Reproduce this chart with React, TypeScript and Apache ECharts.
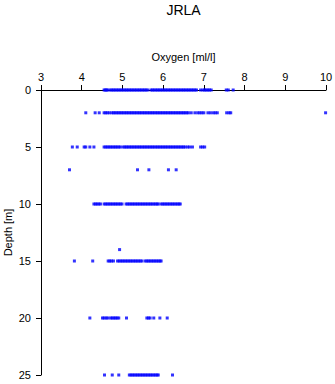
import React, { useEffect, useRef } from "react";
import * as echarts from "echarts";

const depthLevels = [0, 2, 5, 7, 10, 14, 15, 20, 25];

const oxygenAt0 = [
  4.55, 4.58, 4.61, 4.64, 4.70, 4.74, 4.78, 4.82, 4.86, 4.90, 4.94, 4.98, 5.02, 5.06, 5.10,
  5.14, 5.18, 5.22, 5.26, 5.30, 5.34, 5.38, 5.42, 5.46, 5.50, 5.54, 5.58, 5.62, 5.70, 5.74,
  5.78, 5.82, 5.86, 5.90, 5.94, 5.98, 6.02, 6.06, 6.10, 6.14, 6.18, 6.22, 6.26, 6.30, 6.34,
  6.38, 6.42, 6.46, 6.50, 6.54, 6.58, 6.62, 6.66, 6.70, 6.74, 6.78, 6.82, 6.92, 6.98, 7.02,
  7.06, 7.10, 7.14, 7.18, 7.55, 7.60, 7.72,
];
const oxygenAt2 = [
  4.10, 4.33, 4.43, 4.55, 4.59, 4.63, 4.68, 4.74, 4.78, 4.82, 4.86, 4.90, 4.94, 4.98, 5.02,
  5.06, 5.10, 5.14, 5.18, 5.22, 5.26, 5.30, 5.34, 5.38, 5.42, 5.46, 5.50, 5.54, 5.58, 5.62,
  5.66, 5.70, 5.74, 5.78, 5.82, 5.86, 5.90, 5.94, 5.98, 6.02, 6.06, 6.10, 6.14, 6.18, 6.22,
  6.26, 6.30, 6.34, 6.38, 6.42, 6.46, 6.50, 6.54, 6.58, 6.62, 6.69, 6.78, 6.85, 6.90, 6.95,
  7.00, 7.10, 7.16, 7.23, 7.28, 7.33, 7.56, 7.62, 7.66, 9.99,
];
const oxygenAt5 = [
  3.77, 3.89, 4.06, 4.10, 4.20, 4.30, 4.55, 4.59, 4.63, 4.67, 4.71, 4.75, 4.79, 4.83, 4.87,
  4.91, 4.95, 5.02, 5.06, 5.10, 5.14, 5.18, 5.22, 5.26, 5.30, 5.34, 5.38, 5.42, 5.46, 5.50,
  5.54, 5.58, 5.62, 5.66, 5.70, 5.74, 5.78, 5.82, 5.86, 5.90, 5.94, 5.98, 6.02, 6.06, 6.10,
  6.14, 6.18, 6.22, 6.26, 6.30, 6.34, 6.38, 6.42, 6.46, 6.50, 6.54, 6.60, 6.65, 6.72, 6.92,
  6.97, 7.02,
];
const oxygenAt7 = [3.70, 5.37, 5.65, 6.13, 6.32];
const oxygenAt10 = [
  4.30, 4.34, 4.38, 4.42, 4.46, 4.55, 4.59, 4.63, 4.67, 4.71, 4.75, 4.79, 4.83, 4.87, 4.91,
  4.95, 4.99, 5.09, 5.13, 5.17, 5.21, 5.25, 5.29, 5.33, 5.37, 5.41, 5.45, 5.49, 5.53, 5.57,
  5.61, 5.65, 5.69, 5.73, 5.77, 5.81, 5.85, 5.88, 5.95, 5.99, 6.03, 6.07, 6.11, 6.15, 6.19,
  6.23, 6.27, 6.31, 6.35, 6.39, 6.42,
];
const oxygenAt14 = [4.93];
const oxygenAt15 = [
  3.82, 4.27, 4.65, 4.69, 4.73, 4.78, 4.88, 4.92, 4.96, 5.00, 5.04, 5.08, 5.12, 5.16, 5.20,
  5.24, 5.28, 5.32, 5.36, 5.40, 5.44, 5.48, 5.56, 5.60, 5.64, 5.68, 5.72, 5.76, 5.80, 5.84,
  5.88, 5.92, 5.95,
];
const oxygenAt20 = [
  4.20, 4.51, 4.55, 4.60, 4.64, 4.71, 4.75, 4.79, 4.83, 4.87, 4.91, 5.10, 5.60, 5.64, 5.68,
  5.77, 5.92, 6.10,
];
const oxygenAt25 = [
  4.56, 4.75, 4.91, 5.17, 5.21, 5.25, 5.29, 5.33, 5.37, 5.41, 5.45, 5.49, 5.53, 5.57, 5.61,
  5.65, 5.69, 5.73, 5.77, 5.81, 5.85, 5.88, 6.23,
];
const oxygenByDepth = [
  oxygenAt0, oxygenAt2, oxygenAt5, oxygenAt7, oxygenAt10, oxygenAt14, oxygenAt15, oxygenAt20, oxygenAt25,
];

const xTicks = { min: 3, max: 10, interval: 1 };
const yTicks = { min: 0, max: 25, interval: 5 };

export default function App() {
  const ref = useRef<HTMLDivElement>(null);
  useEffect(() => {
    if (!ref.current) return;
    const chart = echarts.init(ref.current, null, { renderer: "svg" });
    const data: number[][] = [];
    depthLevels.forEach((d, i) => oxygenByDepth[i].forEach((o) => data.push([o, d])));
    const font = "'Liberation Sans', Arial, sans-serif";
    chart.setOption({
      animation: false,
      backgroundColor: "#ffffff",
      title: {
        text: "JRLA",
        left: 183.5,
        textAlign: "center",
        top: 3,
        padding: 0,
        textStyle: { fontFamily: font, fontSize: 14, fontWeight: "normal", color: "#000" },
      },
      grid: { left: 41, right: 9, top: 90, bottom: 9, containLabel: false, outerBoundsMode: "none" },
      xAxis: {
        type: "value",
        position: "top",
        min: xTicks.min,
        max: xTicks.max,
        interval: xTicks.interval,
        name: "Oxygen [ml/l]",
        nameLocation: "middle",
        nameGap: 28,
        nameMoveOverlap: false,
        nameTextStyle: { fontFamily: font, fontSize: 11, color: "#000" },
        axisLine: { show: true, onZero: false, lineStyle: { color: "#000", width: 1 } },
        axisTick: { show: true, length: 5, lineStyle: { color: "#000" } },
        axisLabel: { fontFamily: font, fontSize: 11, color: "#000", margin: 8 },
        splitLine: { show: false },
      },
      yAxis: {
        type: "value",
        inverse: true,
        min: yTicks.min,
        max: yTicks.max,
        interval: yTicks.interval,
        name: "Depth [m]",
        nameLocation: "middle",
        nameGap: 28,
        nameMoveOverlap: false,
        nameRotate: 90,
        nameTextStyle: { fontFamily: font, fontSize: 11, color: "#000" },
        axisLine: { show: true, onZero: false, lineStyle: { color: "#000", width: 1 } },
        axisTick: { show: true, length: 5, lineStyle: { color: "#000" } },
        axisLabel: { fontFamily: font, fontSize: 11, color: "#000", margin: 10 },
        splitLine: { show: false },
      },
      series: [
        {
          type: "scatter",
          data,
          symbol: "rect",
          symbolSize: 3,
          itemStyle: { color: "#0000ff" },
          clip: false,
        },
      ],
    });
    return () => chart.dispose();
  }, []);
  return (
    <div
      ref={ref}
      style={{ position: "absolute", left: 0, top: 0, width: 335, height: 384 }}
    />
  );
}
